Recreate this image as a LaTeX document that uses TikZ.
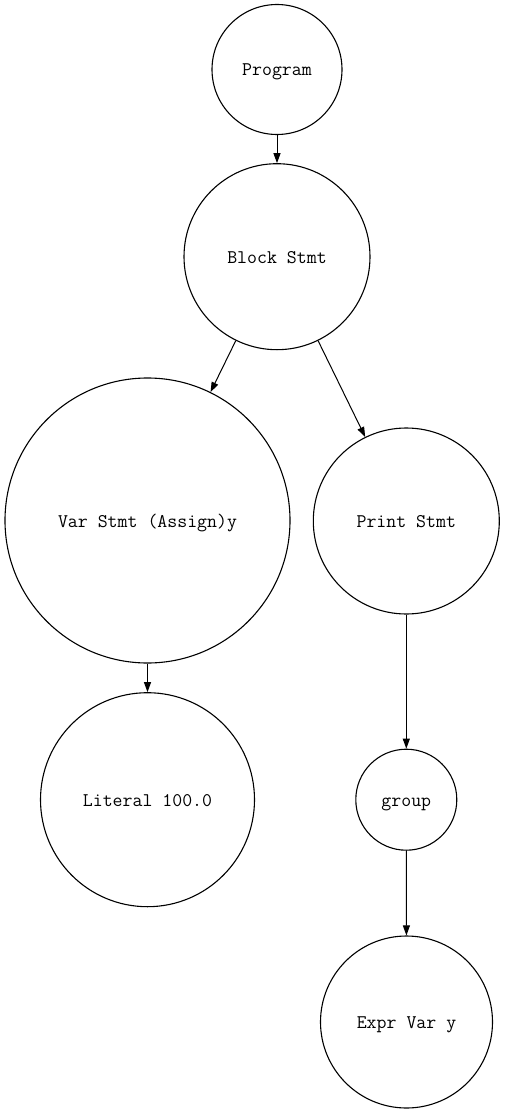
\documentclass[tikz,border=0pt]{standalone}
\usetikzlibrary{arrows.meta}
\tikzset{
  treenode/.style={circle,draw=black,line width=1.1pt,inner sep=0pt,
    text height=13pt,text depth=0pt,
    font=\ttfamily\fontsize{19.3}{21}\selectfont},
  edge/.style={line width=1pt,-{Triangle[length=10pt,width=7pt]}}
}
\begin{document}
\begin{tikzpicture}[x=1pt,y=-1pt]
\useasboundingbox (0,0) rectangle (505,1113);
\node[treenode,minimum size=130pt] (prog) at (277,69.5) {Program};
\node[treenode,minimum size=186pt] (block) at (277,256.7) {Block Stmt};
\node[treenode,minimum size=285pt] (var) at (147.5,520.5) {Var Stmt (Assign)y};
\node[treenode,minimum size=186pt] (print) at (406.3,521) {Print Stmt};
\node[treenode,minimum size=214pt] (lit) at (147.5,799.7) {Literal 100.0};
\node[treenode,minimum size=101pt] (group) at (406.3,799.7) {group};
\node[treenode,minimum size=172pt] (expr) at (406.5,1022) {Expr Var y};
\draw[edge] (prog) -- (block);
\draw[edge] (block) -- (var);
\draw[edge] (block) -- (print);
\draw[edge] (var) -- (lit);
\draw[edge] (print) -- (group);
\draw[edge] (group) -- (expr);
\end{tikzpicture}
\end{document}
